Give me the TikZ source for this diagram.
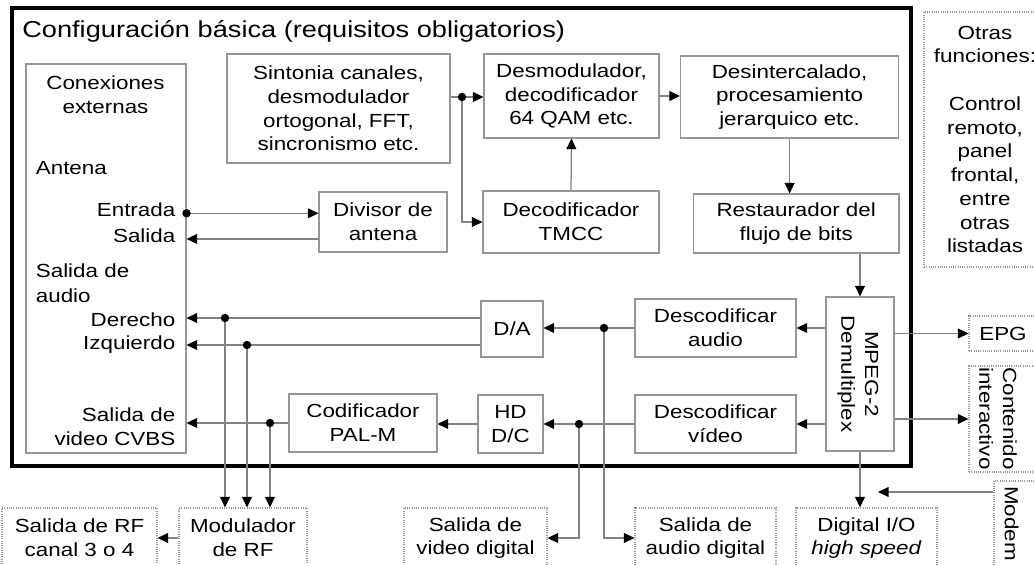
\documentclass[tikz,border=0pt]{standalone}
\usepackage{fontspec}
\setmainfont[FakeStretch=1.18]{Liberation Sans}
\usetikzlibrary{shapes,arrows,arrows.meta,positioning,calc}
\usepackage{xcolor}
\definecolor{boxgray}{RGB}{150,150,150}
\definecolor{wiregray}{RGB}{130,130,130}
\newcommand{\bodyfont}{\fontsize{13.5}{16.9}\selectfont}
\newcommand{\titlefont}{\fontsize{16.4}{20}\selectfont}

\begin{document}
\begin{tikzpicture}[
    blk/.style={rectangle, draw=boxgray, line width=0.8pt, inner sep=0pt, align=center, font=\bodyfont},
    ext/.style={blk, dash pattern=on 0.7pt off 0.9pt},
    lbl/.style={inner sep=0pt, font=\bodyfont},
    wire/.style={draw=wiregray, line width=0.9pt},
    conn/.style={wire, -{Triangle[length=7.5pt,width=7pt,color=black]}}
]
    \useasboundingbox (0,0) rectangle (25.85,-14.125);
    \clip (0,0) rectangle (25.85,-14.125);

    % mandatory block
    \node[rectangle, draw, line width=2.8pt, minimum width=22.475cm, minimum height=11.45cm] (basica) at (11.5375,-5.925) {};
    \node[lbl, font=\titlefont, anchor=base west] (titulo) at (0.55,-0.93) {Configuración básica (requisitos obligatorios)};

    % external connections
    \node[blk, minimum width=4cm, minimum height=9.725cm] (conex) at (2.65,-6.4625) {};
    \node[lbl, align=center] (conextit) at (2.6375,-2.37) {Conexiones\\externas};
    \node[lbl, anchor=base west] (antena) at (0.89,-4.375) {Antena};
    \node[lbl, anchor=base east] (entrada) at (4.39,-5.425) {Entrada};
    \node[lbl, anchor=base east] (salida) at (4.39,-6.0675) {Salida};
    \node[lbl, anchor=base west] (saudio) at (0.89,-6.95) {Salida de};
    \node[lbl, anchor=base west] (audio) at (0.89,-7.5675) {audio};
    \node[lbl, anchor=base east] (derecho) at (4.39,-8.1675) {Derecho};
    \node[lbl, anchor=base east] (izquierdo) at (4.39,-8.75) {Izquierdo};
    \node[lbl, anchor=base east] (cvbsa) at (4.39,-10.5425) {Salida de};
    \node[lbl, anchor=base east] (cvbsb) at (4.39,-11.1425) {video CVBS};

    % receiver chain
    \node[blk, minimum width=5.575cm, minimum height=2.725cm] (sint) at (8.4625,-2.7125) {Sintonia canales,\\desmodulador\\ortogonal, FFT,\\sincronismo etc.};
    \node[blk, minimum width=4.375cm, minimum height=2.1cm] (desmod) at (14.2875,-2.4) {Desmodulador,\\decodificador\\64 QAM etc.};
    \node[blk, minimum width=5.46cm, minimum height=2.05cm] (desint) at (19.74,-2.425) {Desintercalado,\\procesamiento\\jerarquico etc.};
    \node[blk, minimum width=4.4cm, minimum height=1.55cm] (tmcc) at (14.275,-5.55) {Decodificador\\TMCC};
    \node[blk, minimum width=5.1375cm, minimum height=1.475cm] (rest) at (19.906,-5.5875) {Restaurador del\\flujo de bits};
    \node[blk, minimum width=3.2cm, minimum height=1.5cm] (divisor) at (9.575,-5.55) {Divisor de\\antena};
    \node[blk, minimum width=1.7cm, minimum height=3.85cm] (mpeg) at (21.5,-9.35) {};
    \node[lbl, rotate=-90, align=center] (mpegtxt) at (21.45,-9.35) {MPEG-2\\Demultiplex};
    \node[blk, minimum width=4.025cm, minimum height=1.45cm] (daudio) at (17.8875,-8.2) {Descodificar\\audio};
    \node[blk, minimum width=4.025cm, minimum height=1.45cm] (dvideo) at (17.8875,-10.6) {Descodificar\\vídeo};
    \node[blk, minimum width=1.55cm, minimum height=1.4cm] (da) at (12.8,-8.225) {D/A};
    \node[blk, minimum width=1.625cm, minimum height=1.45cm] (hddc) at (12.7625,-10.6) {HD\\D/C};
    \node[blk, minimum width=3.7cm, minimum height=1.45cm] (palm) at (9.075,-10.575) {Codificador\\PAL-M};

    % optional functions
    \node[ext, minimum width=3.05cm, minimum height=6.375cm] (otras) at (24.625,-3.4875) {Otras\\funciones:\\[16.9pt]Control\\remoto,\\panel\\frontal,\\entre\\otras\\listadas};
    \node[ext, minimum width=1.7cm, minimum height=0.875cm] (epg) at (25.075,-8.3375) {EPG};
    \node[ext, minimum width=1.775cm, minimum height=2.65cm] (cont) at (25.1125,-10.475) {};
    \node[lbl, rotate=-90, align=center] (conttxt) at (24.95,-10.4625) {Contenido\\interactivo};
    \node[ext, minimum width=1.15cm, minimum height=2.475cm] (modem) at (25.425,-13.2625) {};
    \node[lbl, rotate=-90] (modemtxt) at (25.29,-13.09) {Modem};

    % outputs
    \node[ext, minimum width=3.875cm, minimum height=1.5cm] (rfout) at (1.9875,-13.45) {Salida de RF\\canal 3 o 4};
    \node[ext, minimum width=3.2cm, minimum height=1.5cm] (modrf) at (6.075,-13.45) {Modulador\\de RF};
    \node[ext, minimum width=3.575cm, minimum height=1.5cm] (vdig) at (11.8875,-13.45) {Salida de\\video digital};
    \node[ext, minimum width=3.525cm, minimum height=1.5cm] (adig) at (17.6375,-13.45) {Salida de\\audio digital};
    \node[ext, minimum width=3.525cm, minimum height=1.5cm] (dio) at (21.6625,-13.45) {Digital I/O\\\textit{high speed}};

    % junctions
    \coordinate (jS) at (11.55,-2.425);
    \coordinate (jEnt) at (conex.east |- entrada.mid);
    \coordinate (jR) at (5.625,-7.95);
    \coordinate (jL) at (6.175,-8.625);
    \coordinate (jC) at (6.75,-10.575);
    \coordinate (jA) at (15.1,-8.2);
    \coordinate (jV) at (14.475,-10.6);
    \coordinate (modemend) at (21.95,-12.3);

    % connections
    \draw[wire] (sint.east |- jS) -- (jS);
    \draw[conn] (jS) -- (desmod.west |- jS);
    \draw[conn] (jS) |- (tmcc.west);
    \draw[conn] (tmcc.north) -- (desmod.south);
    \draw[conn] (desmod.east) -- (desmod.east -| desint.west);
    \draw[conn] (desint.south) -- (desint.south |- rest.north);
    \draw[conn] (mpeg.north |- rest.south) -- (mpeg.north);
    \draw[conn] (jEnt) -- (divisor.west |- jEnt);
    \draw[conn] (divisor.west |- salida.mid) -- (conex.east |- salida.mid);
    \draw[conn] (mpeg.west |- daudio.east) -- (daudio.east);
    \draw[conn] (mpeg.west |- dvideo.east) -- (dvideo.east);
    \draw[conn] (daudio.west) -- (daudio.west -| da.east);
    \draw[conn] (dvideo.west) -- (dvideo.west -| hddc.east);
    \draw[conn] (hddc.west) -- (hddc.west -| palm.east);
    \draw[conn] (palm.west) -- (palm.west -| conex.east);
    \draw[conn] (da.west |- jR) -- (conex.east |- jR);
    \draw[conn] (da.west |- jL) -- (conex.east |- jL);
    \draw[conn] (jR) -- (jR |- modrf.north);
    \draw[conn] (jL) -- (jL |- modrf.north);
    \draw[conn] (jC) -- (jC |- modrf.north);
    \draw[conn] (modrf.west) -- (rfout.east);
    \draw[conn] (jA) |- (adig.west);
    \draw[conn] (jV) |- (vdig.east);
    \draw[conn] (mpeg.south) -- (mpeg.south |- dio.north);
    \draw[conn] (mpeg.east |- epg.west) -- (epg.west);
    \draw[conn] (mpeg.east |- cont.west) -- (cont.west);
    \draw[conn] (modem.west |- modemend) -- (modemend);

    \foreach \j in {jS,jEnt,jR,jL,jC,jA,jV}
        \fill (\j) circle (3pt);
\end{tikzpicture}
\end{document}
